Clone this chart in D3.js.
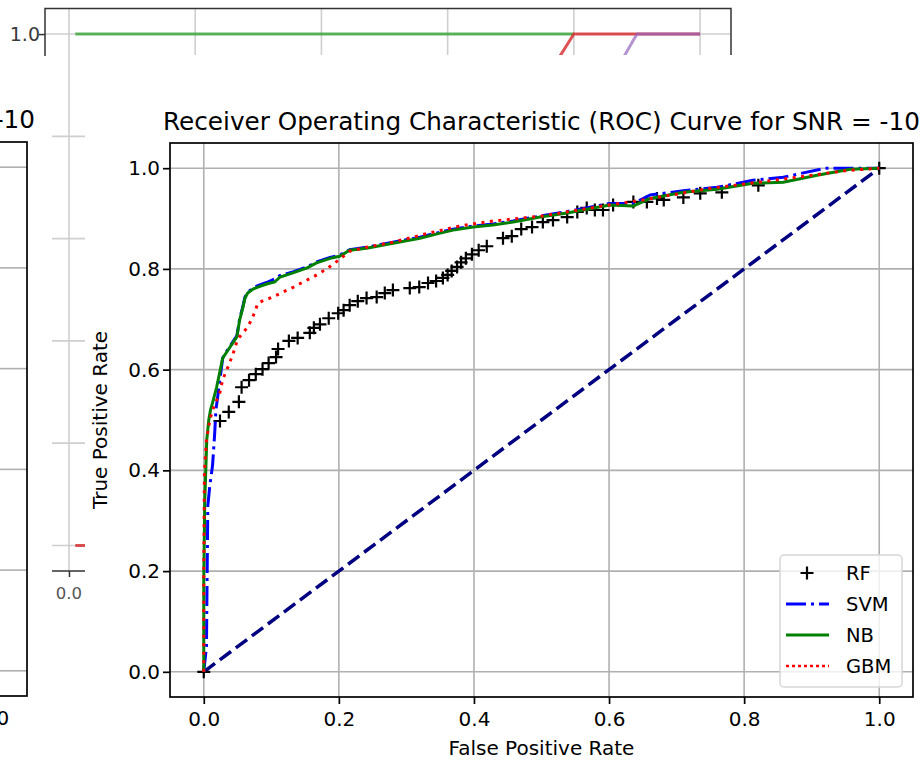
<!DOCTYPE html>
<html>
<head>
<meta charset="utf-8">
<script src="https://cdn.jsdelivr.net/npm/d3@7"></script>
<style>
  html, body { margin: 0; padding: 0; background: #fff; }
  svg { display: block; }
  text { font-family: "DejaVu Sans", sans-serif; }
</style>
</head>
<body>
<svg id="chart" width="923" height="761"></svg>
<script>
// ---------------- DATA ----------------
const titleText = "Receiver Operating Characteristic (ROC) Curve for SNR = -10";
const xLabelText = "False Positive Rate";
const yLabelText = "True Positive Rate";
const xTicks = [0, 0.2, 0.4, 0.6, 0.8, 1.0];
const yTicks = [0, 0.2, 0.4, 0.6, 0.8, 1.0];
const legendLabels = ["RF", "SVM", "NB", "GBM"];

// Random forest (markers only)
const rfFpr = [0, 0.024, 0.037, 0.052, 0.056, 0.067, 0.077, 0.087, 0.096, 0.107, 0.110, 0.126, 0.139, 0.157, 0.163, 0.172, 0.185, 0.199, 0.207, 0.216, 0.228, 0.241, 0.256, 0.268, 0.280, 0.305, 0.319, 0.332, 0.344, 0.354, 0.361, 0.367, 0.375, 0.381, 0.388, 0.397, 0.407, 0.419, 0.443, 0.456, 0.470, 0.486, 0.502, 0.517, 0.538, 0.553, 0.567, 0.579, 0.591, 0.606, 0.636, 0.656, 0.671, 0.681, 0.710, 0.735, 0.767, 0.821, 1.0];
const rfTpr = [0, 0.498, 0.516, 0.536, 0.565, 0.579, 0.591, 0.601, 0.613, 0.625, 0.641, 0.657, 0.663, 0.673, 0.683, 0.690, 0.702, 0.712, 0.718, 0.728, 0.736, 0.742, 0.744, 0.752, 0.758, 0.762, 0.764, 0.772, 0.776, 0.782, 0.788, 0.796, 0.804, 0.813, 0.821, 0.829, 0.837, 0.845, 0.861, 0.865, 0.879, 0.883, 0.893, 0.897, 0.903, 0.913, 0.921, 0.917, 0.917, 0.927, 0.933, 0.933, 0.940, 0.937, 0.942, 0.950, 0.952, 0.966, 1.0];

// SVM
const svmFpr = [0, 0.004, 0.005, 0.006, 0.009, 0.013, 0.016, 0.018, 0.021, 0.028, 0.036, 0.043, 0.049, 0.053, 0.058, 0.061, 0.065, 0.073, 0.080, 0.093, 0.105, 0.113, 0.132, 0.153, 0.167, 0.187, 0.201, 0.216, 0.241, 0.280, 0.320, 0.350, 0.369, 0.399, 0.428, 0.458, 0.498, 0.538, 0.601, 0.636, 0.661, 0.710, 0.760, 0.813, 0.858, 0.920, 1.0];
const svmTpr = [0, 0.050, 0.200, 0.330, 0.370, 0.410, 0.470, 0.520, 0.550, 0.623, 0.641, 0.655, 0.667, 0.700, 0.726, 0.744, 0.754, 0.762, 0.767, 0.773, 0.780, 0.787, 0.794, 0.804, 0.814, 0.823, 0.827, 0.838, 0.843, 0.853, 0.863, 0.873, 0.879, 0.885, 0.889, 0.895, 0.905, 0.914, 0.930, 0.930, 0.947, 0.955, 0.962, 0.976, 0.982, 1.0, 1.0];

// Naive Bayes
const nbFpr = [0, 0, 0.0015, 0.003, 0.0044, 0.0074, 0.010, 0.013, 0.019, 0.028, 0.036, 0.043, 0.049, 0.053, 0.058, 0.061, 0.065, 0.073, 0.080, 0.093, 0.105, 0.113, 0.132, 0.153, 0.167, 0.187, 0.201, 0.216, 0.241, 0.280, 0.320, 0.350, 0.369, 0.399, 0.428, 0.458, 0.498, 0.538, 0.601, 0.636, 0.661, 0.710, 0.760, 0.813, 0.858, 0.908, 0.957, 1.0];
const nbTpr = [0, 0.183, 0.341, 0.401, 0.460, 0.500, 0.520, 0.534, 0.565, 0.623, 0.639, 0.653, 0.665, 0.698, 0.724, 0.742, 0.752, 0.760, 0.764, 0.770, 0.774, 0.784, 0.792, 0.802, 0.812, 0.821, 0.825, 0.837, 0.841, 0.851, 0.861, 0.871, 0.877, 0.883, 0.887, 0.893, 0.903, 0.911, 0.927, 0.925, 0.940, 0.952, 0.958, 0.970, 0.972, 0.986, 0.998, 1.0];

// Gradient boosting
const gbmFpr = [0, 0, 0.001, 0.004, 0.009, 0.013, 0.024, 0.028, 0.036, 0.043, 0.050, 0.058, 0.065, 0.071, 0.076, 0.080, 0.090, 0.102, 0.117, 0.133, 0.147, 0.162, 0.182, 0.201, 0.216, 0.241, 0.280, 0.330, 0.378, 0.428, 0.500, 0.600, 0.650, 0.750, 0.850, 0.950, 1.0];
const gbmTpr = [0, 0.200, 0.400, 0.460, 0.500, 0.520, 0.555, 0.580, 0.606, 0.630, 0.660, 0.673, 0.685, 0.700, 0.716, 0.732, 0.738, 0.744, 0.754, 0.764, 0.774, 0.784, 0.800, 0.819, 0.835, 0.843, 0.853, 0.870, 0.885, 0.895, 0.905, 0.927, 0.937, 0.960, 0.977, 0.995, 1.0];

// chance diagonal
const diagX = [0, 1];
const diagY = [0, 1];

// background (partially hidden) charts
const bgTopTicks = [0, 0.2, 0.4, 0.6, 0.8, 1.0];
const bgTopYLabelTicks = [1.0];   // only label left uncovered
const bgTopXLabelTicks = [0.0];   // only label left uncovered
const bgLeftXLabelTicks = [1.0];  // only label left uncovered
const bgGreenX = [0.01, 0.8];
const bgGreenY = [1, 1];
const bgRedX = [0.01, 0.06, 0.778, 0.8, 1.0];
const bgRedY = [0, 0, 0.957, 1, 1];
const bgPurpleX = [0.86, 0.878, 0.9, 1.0];
const bgPurpleY = [0.9, 0.953, 1, 1];

// ---------------- DRAW ----------------
const svg = d3.select("#chart");
svg.append("rect").attr("width", 923).attr("height", 761).attr("fill", "#fff");

function zip(xs, ys) { return xs.map((x, i) => [x, ys[i]]); }

// ===== Layer 1: background chart at top =====
(function () {
  const g = svg.append("g");
  const L = 45, R = 731, T = 8.5, B = 571;
  const x = d3.scaleLinear().domain([-0.038, 1.049]).range([L, R]);
  const y = d3.scaleLinear().domain([-0.05, 1.05]).range([B, T]);
  g.append("g").selectAll("line").data(bgTopTicks).join("line")
    .attr("x1", d => x(d)).attr("x2", d => x(d)).attr("y1", T).attr("y2", B)
    .attr("stroke", "#cfcfcf").attr("stroke-width", 1.6);
  g.append("g").selectAll("line").data(bgTopTicks).join("line")
    .attr("x1", L).attr("x2", R).attr("y1", d => y(d)).attr("y2", d => y(d))
    .attr("stroke", "#cfcfcf").attr("stroke-width", 1.6);
  const line = d3.line().x(d => x(d[0])).y(d => y(d[1]));
  g.append("path").attr("d", line(zip(bgGreenX, bgGreenY))).attr("fill", "none")
    .attr("stroke", "#2ca02c").attr("stroke-opacity", 0.75).attr("stroke-width", 3);
  g.append("path").attr("d", line(zip(bgRedX, bgRedY))).attr("fill", "none")
    .attr("stroke", "#d62728").attr("stroke-opacity", 0.8).attr("stroke-width", 3);
  g.append("path").attr("d", line(zip(bgPurpleX, bgPurpleY))).attr("fill", "none")
    .attr("stroke", "#9467bd").attr("stroke-opacity", 0.7).attr("stroke-width", 3);
  g.append("rect").attr("x", L).attr("y", T).attr("width", R - L).attr("height", B - T)
    .attr("fill", "none").attr("stroke", "#333").attr("stroke-width", 1.5);
  const ya = d3.axisLeft(y).tickValues(bgTopTicks).tickFormat("").tickSizeOuter(0).tickSize(6);
  const ga = g.append("g").attr("transform", `translate(${L},0)`).call(ya);
  ga.select(".domain").remove();
  ga.selectAll("line").attr("stroke", "#333").attr("stroke-width", 1.5);
  const xa = d3.axisBottom(x).tickValues(bgTopTicks).tickFormat("").tickSizeOuter(0).tickSize(6);
  const gx = g.append("g").attr("transform", `translate(0,${B})`).call(xa);
  gx.select(".domain").remove();
  gx.selectAll("line").attr("stroke", "#333").attr("stroke-width", 1.5);
  g.append("g").selectAll("text").data(bgTopYLabelTicks).join("text")
    .attr("x", L - 5).attr("y", d => y(d)).attr("dy", "0.36em").attr("text-anchor", "end")
    .attr("font-size", 19).attr("fill", "#3a3a3a").text(d3.format(".1f"));
  g.append("g").selectAll("text").data(bgTopXLabelTicks).join("text")
    .attr("x", d => x(d)).attr("y", 599).attr("text-anchor", "middle")
    .attr("font-size", 16.5).attr("fill", "#555").text(d3.format(".1f"));
})();

// ===== Layer 2: left chart (mostly off-screen) =====
(function () {
  const g = svg.append("g");
  g.append("rect").attr("x", 0).attr("y", 56).attr("width", 52).attr("height", 705).attr("fill", "#fff");
  const R = 27, T = 142, B = 696, Lx = -715;
  const x = d3.scaleLinear().domain([-0.05, 1.05]).range([Lx, R]);
  const y = d3.scaleLinear().domain([-0.05, 1.05]).range([B, T]);
  g.append("g").selectAll("line").data(yTicks).join("line")
    .attr("x1", 0).attr("x2", R).attr("y1", d => y(d)).attr("y2", d => y(d))
    .attr("stroke", "#b0b0b0").attr("stroke-width", 1.6);
  g.append("rect").attr("x", Lx).attr("y", T).attr("width", R - Lx).attr("height", B - T)
    .attr("fill", "none").attr("stroke", "#000").attr("stroke-width", 1.7);
  g.append("text").attr("x", 35).attr("y", 128).attr("text-anchor", "end")
    .attr("font-size", 24.7).attr("fill", "#000").text(titleText);
  g.append("g").selectAll("line").data(bgLeftXLabelTicks).join("line")
    .attr("x1", d => x(d)).attr("x2", d => x(d)).attr("y1", B).attr("y2", B + 7)
    .attr("stroke", "#000").attr("stroke-width", 1.7);
  g.append("g").selectAll("text").data(bgLeftXLabelTicks).join("text")
    .attr("x", d => x(d)).attr("y", B + 10).attr("dy", "0.95em").attr("text-anchor", "middle")
    .attr("font-size", 20).attr("fill", "#000").text(d3.format(".1f"));
})();

// ===== Layer 3: main chart =====
(function () {
  const g = svg.append("g");
  g.append("rect").attr("x", 85).attr("y", 55).attr("width", 838).attr("height", 706).attr("fill", "#fff");
  const L = 170, R = 913, T = 143, B = 697;
  const x = d3.scaleLinear().domain([-0.05, 1.05]).range([L, R]);
  const y = d3.scaleLinear().domain([-0.05, 1.05]).range([B, T]);

  g.append("g").selectAll("line").data(xTicks).join("line")
    .attr("x1", d => x(d)).attr("x2", d => x(d)).attr("y1", T).attr("y2", B)
    .attr("stroke", "#b0b0b0").attr("stroke-width", 1.6);
  g.append("g").selectAll("line").data(yTicks).join("line")
    .attr("x1", L).attr("x2", R).attr("y1", d => y(d)).attr("y2", d => y(d))
    .attr("stroke", "#b0b0b0").attr("stroke-width", 1.6);

  const line = d3.line().x(d => x(d[0])).y(d => y(d[1]));

  g.append("path").attr("d", line(zip(diagX, diagY))).attr("fill", "none")
    .attr("stroke", "navy").attr("stroke-width", 3.5).attr("stroke-dasharray", "14,6");

  g.append("g").selectAll("path").data(zip(rfFpr, rfTpr)).join("path")
    .attr("transform", d => `translate(${x(d[0])},${y(d[1])})`)
    .attr("d", "M-6.5,0H6.5M0,-6.5V6.5")
    .attr("fill", "none").attr("stroke", "#000").attr("stroke-width", 2.2);

  g.append("path").attr("d", line(zip(svmFpr, svmTpr))).attr("fill", "none")
    .attr("stroke", "blue").attr("stroke-width", 3).attr("stroke-dasharray", "20,5,3,5");
  g.append("path").attr("d", line(zip(nbFpr, nbTpr))).attr("fill", "none")
    .attr("stroke", "green").attr("stroke-width", 3);
  g.append("path").attr("d", line(zip(gbmFpr, gbmTpr))).attr("fill", "none")
    .attr("stroke", "red").attr("stroke-width", 3).attr("stroke-dasharray", "3,5.5");

  g.append("rect").attr("x", L).attr("y", T).attr("width", R - L).attr("height", B - T)
    .attr("fill", "none").attr("stroke", "#000").attr("stroke-width", 1.7);

  const xa = d3.axisBottom(x).tickValues(xTicks).tickFormat(d3.format(".1f")).tickSizeOuter(0).tickSize(7);
  const gx = g.append("g").attr("transform", `translate(0,${B})`).call(xa);
  gx.select(".domain").remove();
  gx.selectAll("line").attr("stroke", "#000").attr("stroke-width", 1.7);
  gx.selectAll("text").attr("font-size", 20).attr("fill", "#000").attr("font-family", "DejaVu Sans").attr("dy", "0.95em");

  const ya = d3.axisLeft(y).tickValues(yTicks).tickFormat(d3.format(".1f")).tickSizeOuter(0).tickSize(7);
  const gy = g.append("g").attr("transform", `translate(${L},0)`).call(ya);
  gy.select(".domain").remove();
  gy.selectAll("line").attr("stroke", "#000").attr("stroke-width", 1.7);
  gy.selectAll("text").attr("font-size", 20).attr("fill", "#000").attr("font-family", "DejaVu Sans").attr("x", -10);

  g.append("text").attr("x", (L + R) / 2).attr("y", 130).attr("text-anchor", "middle")
    .attr("font-size", 24.7).attr("fill", "#000").text(titleText);
  g.append("text").attr("x", (L + R) / 2).attr("y", 755).attr("text-anchor", "middle")
    .attr("font-size", 20).attr("fill", "#000").text(xLabelText);
  g.append("text").attr("transform", `translate(107,${(T + B) / 2}) rotate(-90)`).attr("text-anchor", "middle")
    .attr("font-size", 20).attr("fill", "#000").text(yLabelText);

  const lg = g.append("g");
  lg.append("rect").attr("x", 780).attr("y", 555).attr("width", 122).attr("height", 132)
    .attr("rx", 4).attr("fill", "#fff").attr("fill-opacity", 0.8)
    .attr("stroke", "#d6d6d6").attr("stroke-width", 1.5);
  const rowY = d3.scalePoint().domain(legendLabels).range([573, 666]);
  const styles = {
    SVM: { stroke: "blue", dash: "20,5,3,5", w: 3 },
    NB: { stroke: "green", dash: null, w: 3 },
    GBM: { stroke: "red", dash: "3,3", w: 2.5 }
  };
  legendLabels.forEach(lab => {
    const yy = rowY(lab);
    if (lab === "RF") {
      lg.append("path").attr("transform", `translate(807,${yy})`).attr("d", "M-6.5,0H6.5M0,-6.5V6.5")
        .attr("stroke", "#000").attr("stroke-width", 2.2).attr("fill", "none");
    } else {
      const s = styles[lab];
      const p = lg.append("line").attr("x1", 786).attr("x2", 829).attr("y1", yy).attr("y2", yy)
        .attr("stroke", s.stroke).attr("stroke-width", s.w);
      if (s.dash) p.attr("stroke-dasharray", s.dash);
    }
    lg.append("text").attr("x", 846).attr("y", yy).attr("dy", "0.35em")
      .attr("font-size", 19.5).attr("fill", "#000").text(lab);
  });
})();
</script>
</body>
</html>
